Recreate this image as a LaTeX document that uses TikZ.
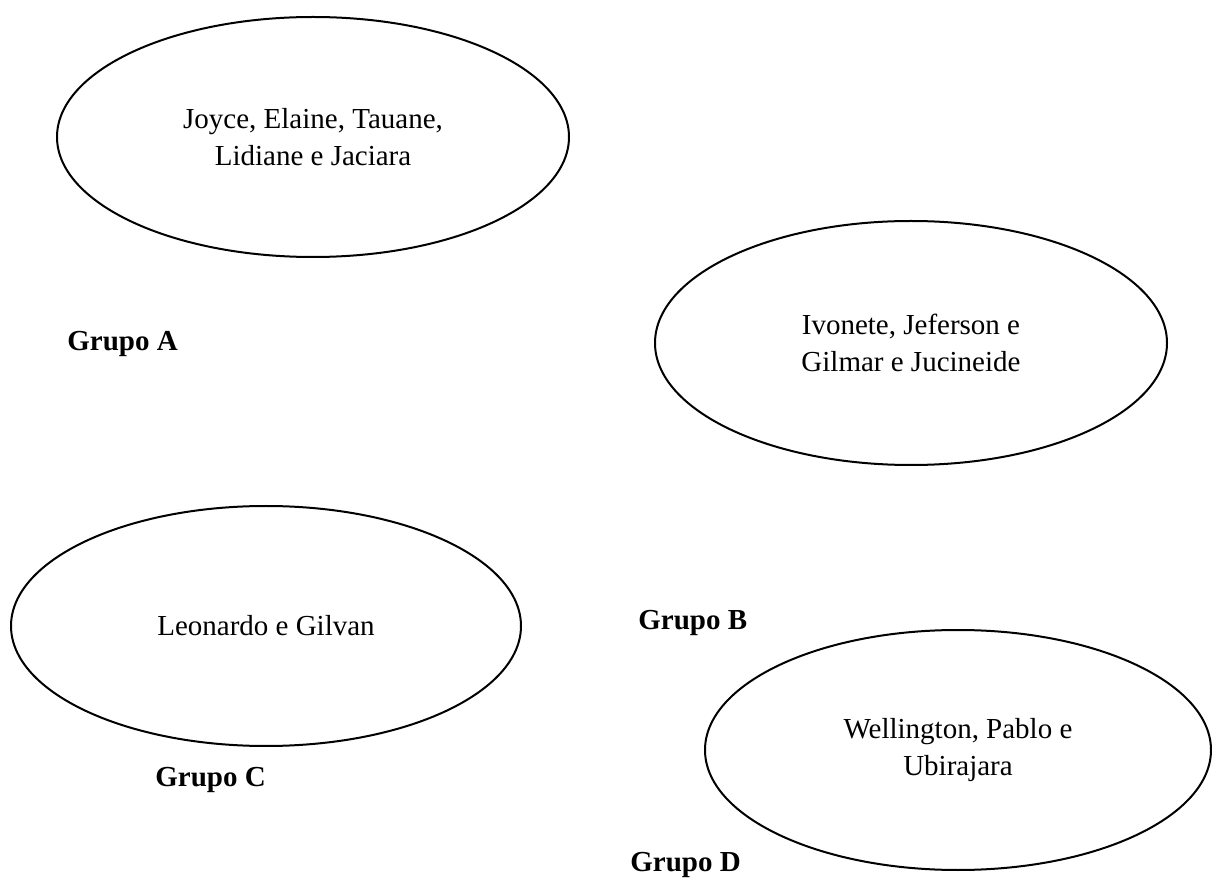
\documentclass[tikz,border=0pt]{standalone}
\usepackage{fontspec}
\setmainfont{Liberation Serif}
\usetikzlibrary{shapes.geometric}
\begin{document}
\begin{tikzpicture}[x=0.5pt, y=-0.5pt, every node/.style={font=\fontsize{14.5}{18.5}\selectfont}]

\useasboundingbox (0,0) rectangle (1212,882);

\tikzset{oval/.style={ellipse, draw, line width=1pt, inner sep=0pt, align=center, minimum width=256pt, minimum height=120pt}}
\node[oval] (ga) at (313,137) {Joyce, Elaine, Tauane,\\Lidiane e Jaciara};
\node[oval, minimum height=122pt] (gb) at (911,343) {Ivonete, Jeferson e\\Gilmar e Jucineide};
\node[oval, minimum width=255pt] (gc) at (266,626) {Leonardo e Gilvan};
\node[oval, minimum width=253pt] (gd) at (958,750) {Wellington, Pablo e\\Ubirajara};

\tikzset{rotulo/.style={font=\bfseries\fontsize{14.5}{18.5}\selectfont, anchor=base west, inner sep=0pt}}
\node[rotulo] (ra) at (67,351) {Grupo A};
\node[rotulo] (rb) at (638,630) {Grupo B};
\node[rotulo] (rc) at (155,786) {Grupo C};
\node[rotulo] (rd) at (630,871) {Grupo D};
\end{tikzpicture}
\end{document}
